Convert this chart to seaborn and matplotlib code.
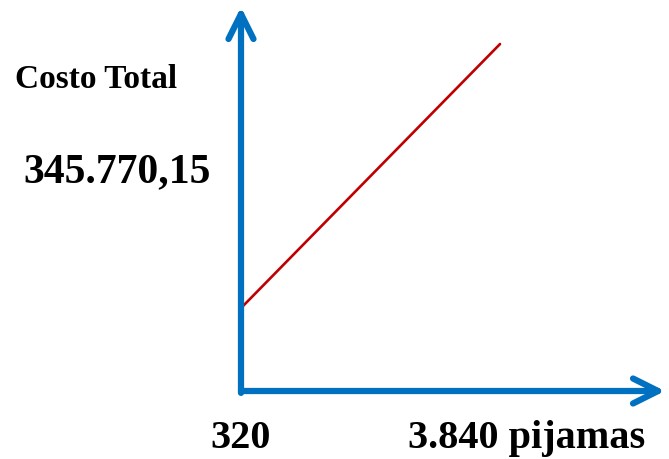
import matplotlib
matplotlib.use('Agg')
import numpy as np
import pandas as pd
import matplotlib.pyplot as plt
import seaborn as sns

# datos del esquema
pijamas = [320, 3840]
costo_total = [128000, 535600]
costo_tick = 345770.15
costo_tick_label = '345.770,15'
x_tick_labels = ['320', '3.840 pijamas']
y_title = 'Costo Total'

azul = '#0070C0'
rojo = '#C00000'

sns.set_style('white')
plt.rcParams['font.family'] = ['Liberation Serif', 'DejaVu Serif']
plt.rcParams['font.weight'] = 'bold'
plt.rcParams['text.color'] = 'black'
plt.rcParams['xtick.color'] = 'black'
plt.rcParams['ytick.color'] = 'black'

fig = plt.figure(figsize=(6.69, 4.6), dpi=100)
ax = fig.add_axes([241 / 669, 68 / 460, 424 / 669, 384 / 460])

df = pd.DataFrame({'pijamas': pijamas, 'costo': costo_total})
sns.lineplot(data=df, x='pijamas', y='costo', color=rojo, lw=1.9, ax=ax)

ax.set_xlim(320, 6082)
ax.set_ylim(0, 592750)
sns.despine(ax=ax, left=True, bottom=True, top=True, right=True)
ax.set_xlabel('')
ax.set_ylabel('')

ax.set_xticks([pijamas[0]])
ax.set_xticklabels([x_tick_labels[0]], fontsize=29, fontweight='bold', color='black')
ax.set_yticks([costo_tick])
ax.set_yticklabels([costo_tick_label], fontsize=30, fontweight='bold', color='black')
ax.tick_params(axis='x', length=0, pad=20)
ax.tick_params(axis='y', length=0, pad=22)

ax.annotate(x_tick_labels[1], xy=(pijamas[1], 0), xytext=(-92, -28),
            textcoords='offset pixels', ha='left', va='top', color='black',
            fontsize=29, fontweight='bold', annotation_clip=False)

fig.text(15 / 669, 1 - 80 / 460, y_title, fontsize=24, fontweight='bold',
         ha='left', va='center', color='black')

flecha = dict(arrowstyle='->,head_length=0.9,head_width=0.45', lw=4.5,
              color=azul, shrinkA=0, shrinkB=0, mutation_scale=20,
              capstyle='round', joinstyle='round')
ax.annotate('', xy=(0, 1), xytext=(0, -0.005), xycoords='axes fraction',
            arrowprops=flecha, annotation_clip=False)
ax.annotate('', xy=(1, 0), xytext=(0, 0), xycoords='axes fraction',
            arrowprops=flecha, annotation_clip=False)

fig.savefig('out.png', dpi=100)
